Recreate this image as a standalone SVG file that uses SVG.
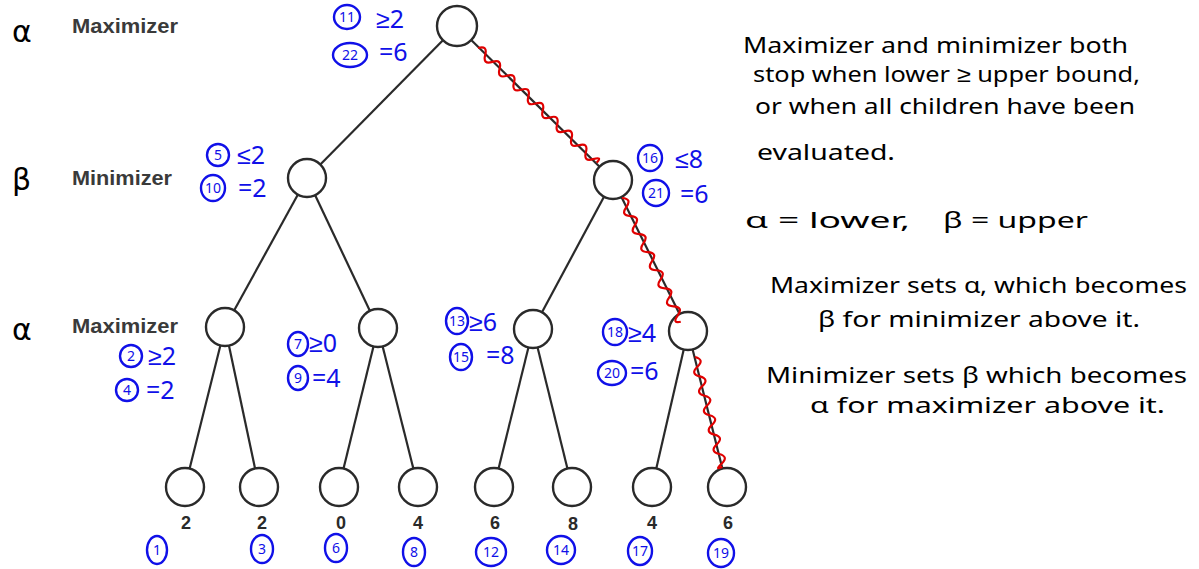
<svg xmlns="http://www.w3.org/2000/svg" width="1199" height="569" viewBox="0 0 1199 569">
<style>
.node{fill:#fff;stroke:#2a2a2a;stroke-width:2.4}
.edge{stroke:#2a2a2a;stroke-width:2.2;fill:none}
.wave{stroke:#e00000;stroke-width:2.2;fill:none}
.lvl{font-family:"Liberation Sans",Arial,sans-serif;font-weight:bold;font-size:21px;fill:#3a3a3a}
.greek{font-family:"DejaVu Sans",sans-serif;font-size:30px;fill:#000}
.val{font-family:"Liberation Sans",Arial,sans-serif;font-weight:bold;font-size:18px;fill:#2a2a2a;text-anchor:middle}
.ann{font-family:"Noto Sans",sans-serif;font-size:25px;fill:#1010e8}
.ring{fill:none;stroke:#1010e8;stroke-width:2.4}
.cn{font-family:"Noto Sans",sans-serif;font-size:14px;fill:#1010e8;text-anchor:middle}
.note{font-family:"Noto Sans",sans-serif;font-size:22px;fill:#000}
</style>
<rect width="1199" height="569" fill="#fff"/>

<g id="labels">
<text class="greek" x="12" y="42">α</text>
<text class="lvl" x="72" y="33" textLength="106" lengthAdjust="spacingAndGlyphs">Maximizer</text>
<text class="greek" x="12" y="190">β</text>
<text class="lvl" x="72" y="185" textLength="100" lengthAdjust="spacingAndGlyphs">Minimizer</text>
<text class="greek" x="12" y="340">α</text>
<text class="lvl" x="72" y="333" textLength="106" lengthAdjust="spacingAndGlyphs">Maximizer</text>
</g>

<g id="connectors">
<line class="edge" x1="457" y1="26" x2="307" y2="178"/>
<line class="edge" x1="457" y1="26" x2="613" y2="180"/>
<line class="edge" x1="307" y1="178" x2="225" y2="327"/>
<line class="edge" x1="307" y1="178" x2="378" y2="328"/>
<line class="edge" x1="613" y1="180" x2="533" y2="329"/>
<line class="edge" x1="613" y1="180" x2="688" y2="331"/>
<line class="edge" x1="225" y1="327" x2="185" y2="487"/>
<line class="edge" x1="225" y1="327" x2="259" y2="487"/>
<line class="edge" x1="378" y1="328" x2="339" y2="487"/>
<line class="edge" x1="378" y1="328" x2="418" y2="487"/>
<line class="edge" x1="533" y1="329" x2="494" y2="487"/>
<line class="edge" x1="533" y1="329" x2="572" y2="487"/>
<line class="edge" x1="688" y1="331" x2="652" y2="487"/>
<line class="edge" x1="688" y1="331" x2="727" y2="487"/>
</g>

<g id="root"><circle class="node" cx="457" cy="26" r="20"/></g>
<g id="min-left"><circle class="node" cx="307" cy="178" r="19"/></g>
<g id="min-right"><circle class="node" cx="613" cy="180" r="19"/></g>
<g id="max-1"><circle class="node" cx="225" cy="327" r="19"/></g>
<g id="max-2"><circle class="node" cx="378" cy="328" r="19"/></g>
<g id="max-3"><circle class="node" cx="533" cy="329" r="19"/></g>
<g id="max-4"><circle class="node" cx="688" cy="331" r="19"/></g>
<g id="leaf-1"><circle class="node" cx="185" cy="487" r="19"/><text class="val" x="186" y="529">2</text></g>
<g id="leaf-2"><circle class="node" cx="259" cy="487" r="19"/><text class="val" x="262" y="529">2</text></g>
<g id="leaf-3"><circle class="node" cx="339" cy="487" r="19"/><text class="val" x="341" y="529">0</text></g>
<g id="leaf-4"><circle class="node" cx="418" cy="487" r="19"/><text class="val" x="418" y="529">4</text></g>
<g id="leaf-5"><circle class="node" cx="494" cy="487" r="19"/><text class="val" x="495" y="529">6</text></g>
<g id="leaf-6"><circle class="node" cx="572" cy="487" r="19"/><text class="val" x="573" y="530">8</text></g>
<g id="leaf-7"><circle class="node" cx="652" cy="487" r="19"/><text class="val" x="652" y="529">4</text></g>
<g id="leaf-8"><circle class="node" cx="727" cy="487" r="19"/><text class="val" x="728" y="529">6</text></g>

<g id="path-highlight">
<path class="wave" transform="translate(478,48) rotate(44)" d="M0 0 q5 -9 10 0 t10 0 t10 0 t10 0 t10 0 t10 0 t10 0 t10 0 t10 0 t10 0 t10 0 t10 0 t10 0 t10 0 t10 0 t10 0 t5 0"/>
<path class="wave" transform="translate(622,198) rotate(64.6)" d="M0 0 q5 -9 10 0 t10 0 t10 0 t10 0 t10 0 t10 0 t10 0 t10 0 t10 0 t10 0 t10 0 t10 0 t10 0 t7 0"/>
<path class="wave" transform="translate(695,357) rotate(76)" d="M0 0 q5 -9 10 0 t10 0 t10 0 t10 0 t10 0 t10 0 t10 0 t10 0 t10 0 t10 0 t10 0 t3 0"/>
</g>

<g id="annotations">
<ellipse class="ring" cx="347" cy="17" rx="13" ry="12"/><text class="cn" x="347" y="22">11</text>
<text class="ann" x="376" y="28">≥2</text>
<ellipse class="ring" cx="350" cy="55" rx="17" ry="12"/><text class="cn" x="350" y="60">22</text>
<text class="ann" x="379" y="61">=6</text>

<ellipse class="ring" cx="218" cy="155" rx="11" ry="11"/><text class="cn" x="218" y="160">5</text>
<text class="ann" x="237" y="164">≤2</text>
<ellipse class="ring" cx="213" cy="188" rx="12" ry="13"/><text class="cn" x="213" y="193">10</text>
<text class="ann" x="238" y="197">=2</text>

<ellipse class="ring" cx="650" cy="158" rx="12" ry="13"/><text class="cn" x="650" y="163">16</text>
<text class="ann" x="675" y="168">≤8</text>
<ellipse class="ring" cx="656" cy="193" rx="13" ry="13"/><text class="cn" x="656" y="198">21</text>
<text class="ann" x="680" y="203">=6</text>

<ellipse class="ring" cx="131" cy="356" rx="11" ry="11"/><text class="cn" x="131" y="361">2</text>
<text class="ann" x="148" y="365">≥2</text>
<ellipse class="ring" cx="127" cy="390" rx="11" ry="11"/><text class="cn" x="127" y="395">4</text>
<text class="ann" x="146" y="399">=2</text>

<ellipse class="ring" cx="298" cy="344" rx="10" ry="12"/><text class="cn" x="298" y="349">7</text>
<text class="ann" x="309" y="352">≥0</text>
<ellipse class="ring" cx="298" cy="378" rx="10" ry="12"/><text class="cn" x="298" y="383">9</text>
<text class="ann" x="312" y="387">=4</text>

<ellipse class="ring" cx="457" cy="321" rx="11" ry="13"/><text class="cn" x="457" y="326">13</text>
<text class="ann" x="469" y="331">≥6</text>
<ellipse class="ring" cx="461" cy="357" rx="11" ry="13"/><text class="cn" x="461" y="362">15</text>
<text class="ann" x="486" y="364">=8</text>

<ellipse class="ring" cx="615" cy="332" rx="12" ry="13"/><text class="cn" x="615" y="337">18</text>
<text class="ann" x="628" y="342">≥4</text>
<ellipse class="ring" cx="612" cy="373" rx="14" ry="12"/><text class="cn" x="612" y="378">20</text>
<text class="ann" x="630" y="380">=6</text>

<ellipse class="ring" cx="157" cy="550" rx="10" ry="14"/><text class="cn" x="157" y="555">1</text>
<ellipse class="ring" cx="262" cy="549" rx="11" ry="14"/><text class="cn" x="262" y="554">3</text>
<ellipse class="ring" cx="336" cy="548" rx="11" ry="14"/><text class="cn" x="336" y="553">6</text>
<ellipse class="ring" cx="414" cy="552" rx="11" ry="14"/><text class="cn" x="414" y="557">8</text>
<ellipse class="ring" cx="491" cy="552" rx="15" ry="14"/><text class="cn" x="491" y="557">12</text>
<ellipse class="ring" cx="561" cy="550" rx="14" ry="14"/><text class="cn" x="561" y="555">14</text>
<ellipse class="ring" cx="640" cy="551" rx="12" ry="14"/><text class="cn" x="640" y="556">17</text>
<ellipse class="ring" cx="721" cy="553" rx="13" ry="14"/><text class="cn" x="721" y="558">19</text>
</g>

<g id="notes">
<text class="note" x="743" y="53" textLength="385" lengthAdjust="spacingAndGlyphs">Maximizer and minimizer both</text>
<text class="note" x="753" y="82" textLength="387" lengthAdjust="spacingAndGlyphs">stop when lower ≥ upper bound,</text>
<text class="note" x="755" y="114" textLength="380" lengthAdjust="spacingAndGlyphs">or when all children have been</text>
<text class="note" x="757" y="160" textLength="138" lengthAdjust="spacingAndGlyphs">evaluated.</text>
<text class="note" x="745" y="228" textLength="165" lengthAdjust="spacingAndGlyphs">α = lower,</text>
<text class="note" x="943" y="228" textLength="145" lengthAdjust="spacingAndGlyphs">β = upper</text>
<text class="note" x="770" y="293" textLength="417" lengthAdjust="spacingAndGlyphs">Maximizer sets α, which becomes</text>
<text class="note" x="818" y="327" textLength="322" lengthAdjust="spacingAndGlyphs">β for minimizer above it.</text>
<text class="note" x="766" y="383" textLength="421" lengthAdjust="spacingAndGlyphs">Minimizer sets β which becomes</text>
<text class="note" x="810" y="413" textLength="355" lengthAdjust="spacingAndGlyphs">α for maximizer above it.</text>
</g>
</svg>
